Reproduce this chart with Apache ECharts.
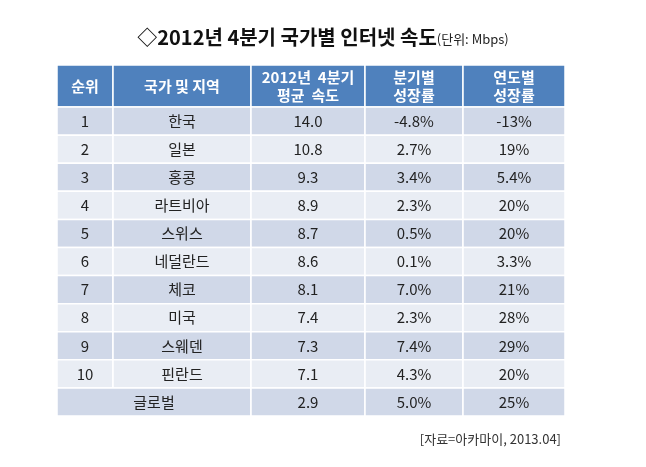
<!DOCTYPE html>
<html>
<head>
<meta charset="utf-8">
<script src="https://cdn.jsdelivr.net/npm/echarts@6/dist/echarts.min.js"></script>
<style>
  html, body { margin: 0; padding: 0; background: #fff; }
  #main { width: 646px; height: 467px; }
</style>
</head>
<body>
<div id="main"></div>
<script>
// table data
var headers = ['순위', '국가 및 지역', '2012년  4분기\n평균  속도', '분기별\n성장률', '연도별\n성장률'];
var ranks = ['1', '2', '3', '4', '5', '6', '7', '8', '9', '10'];
var countries = ['한국', '일본', '홍콩', '라트비아', '스위스', '네덜란드', '체코', '미국', '스웨덴', '핀란드'];
var avgSpeed = [14.0, 10.8, 9.3, 8.9, 8.7, 8.6, 8.1, 7.4, 7.3, 7.1];
var qoqGrowth = [-4.8, 2.7, 3.4, 2.3, 0.5, 0.1, 7.0, 2.3, 7.4, 4.3];
var yoyGrowth = [-13, 19, 5.4, 20, 20, 3.3, 21, 28, 29, 20];
var globalLabel = '글로벌';
var globalValues = [2.9, 5.0, 25];

// layout
var colWidths = [56, 138, 114, 98, 102];
var headerRows = 1.5;
var colEdges = [0];
colWidths.forEach(function (w, i) { colEdges.push(colEdges[i] + w); });

var HEAD = '#4f81bd', DARK = '#d0d8e8', LIGHT = '#e9edf4';

var cells = [];
function addCell(c0, c1, r0, r1, text, kind) {
    cells.push({ c0: c0, c1: c1, r0: r0, r1: r1, text: text, kind: kind });
}
headers.forEach(function (h, c) {
    addCell(c, c + 1, 0, headerRows, h, 'head');
});
ranks.forEach(function (r, i) {
    var y0 = headerRows + i, kind = i % 2 === 0 ? 'dark' : 'light';
    addCell(0, 1, y0, y0 + 1, r, kind);
    addCell(1, 2, y0, y0 + 1, countries[i], kind);
    addCell(2, 3, y0, y0 + 1, avgSpeed[i].toFixed(1), kind);
    addCell(3, 4, y0, y0 + 1, qoqGrowth[i].toFixed(1) + '%', kind);
    addCell(4, 5, y0, y0 + 1, yoyGrowth[i] + '%', kind);
});
var gy = headerRows + ranks.length;
addCell(0, 2, gy, gy + 1, globalLabel, 'dark');
addCell(2, 3, gy, gy + 1, globalValues[0].toFixed(1), 'dark');
addCell(3, 4, gy, gy + 1, globalValues[1].toFixed(1) + '%', 'dark');
addCell(4, 5, gy, gy + 1, globalValues[2] + '%', 'dark');

var FONT = '"Noto Sans CJK KR", "Noto Sans", sans-serif';

var chart = echarts.init(document.getElementById('main'));
var option = {
    backgroundColor: '#fff',
    animation: false,
    title: [{
        text: '{a|◇2012년 4분기 국가별 인터넷 속도}{b|(단위: Mbps)}',
        left: 'center',
        top: 22,
        textStyle: {
            rich: {
                a: { fontSize: 20, fontWeight: 'bold', color: '#111', fontFamily: FONT },
                b: { fontSize: 13, fontWeight: 'normal', color: '#222', fontFamily: FONT, padding: [4, 0, 0, 0] }
            }
        }
    }, {
        text: '[자료=아카마이, 2013.04]',
        right: 80,
        top: 428,
        textStyle: { fontSize: 13, fontWeight: 'normal', color: '#333', fontFamily: FONT }
    }],
    grid: { left: 57, right: 81, top: 65, bottom: 51 },
    xAxis: { type: 'value', min: 0, max: colEdges[colEdges.length - 1], show: false },
    yAxis: { type: 'value', min: 0, max: headerRows + ranks.length + 1, inverse: true, show: false },
    series: [{
        type: 'custom',
        dimensions: ['x0', 'y0', 'x1', 'y1'],
        encode: { x: [0, 2], y: [1, 3] },
        data: cells.map(function (c) { return [colEdges[c.c0], c.r0, colEdges[c.c1], c.r1]; }),
        renderItem: function (params, api) {
            var cell = cells[params.dataIndex];
            var p0 = api.coord([api.value(0), api.value(1)]);
            var p1 = api.coord([api.value(2), api.value(3)]);
            var isHead = cell.kind === 'head';
            var fill = isHead ? HEAD : (cell.kind === 'dark' ? DARK : LIGHT);
            return {
                type: 'group',
                children: [{
                    type: 'rect',
                    shape: { x: p0[0], y: p0[1], width: p1[0] - p0[0], height: p1[1] - p0[1] },
                    style: { fill: fill, stroke: '#fff', lineWidth: 1.5 }
                }, {
                    type: 'text',
                    style: {
                        text: cell.text,
                        x: (p0[0] + p1[0]) / 2,
                        y: (p0[1] + p1[1]) / 2,
                        align: 'center',
                        verticalAlign: 'middle',
                        fill: isHead ? '#fff' : '#222',
                        fontSize: 15,
                        lineHeight: 18,
                        fontWeight: isHead ? 'bold' : 'normal',
                        fontFamily: FONT
                    }
                }]
            };
        }
    }]
};
chart.setOption(option);
window.addEventListener('resize', function () { chart.resize(); });
</script>
</body>
</html>
